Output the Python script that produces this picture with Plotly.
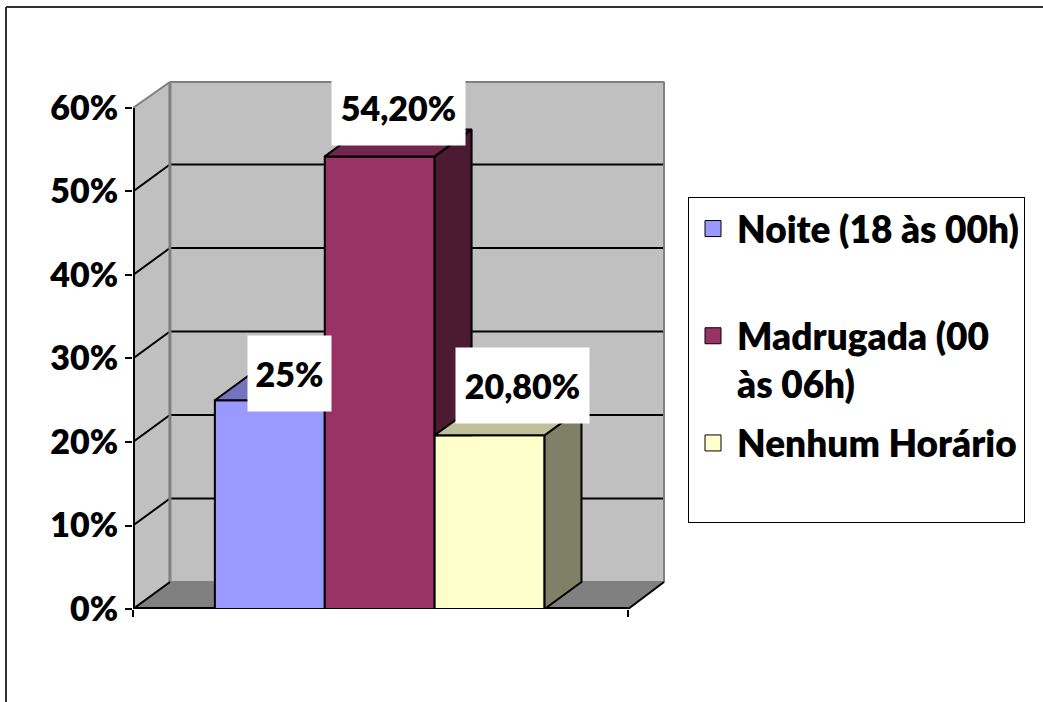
import plotly.graph_objects as go

# ---------------- data ----------------
categories = ["Noite (18 às 00h)", "Madrugada (00 às 06h)", "Nenhum Horário"]
legend_labels = ["Noite (18 às 00h)<br>\u00a0", "Madrugada (00<br>às 06h)", "Nenhum Horário<br>\u00a0"]
values = [0.25, 0.542, 0.208]
value_labels = ["25%", "54,20%", "20,80%"]
tick_vals = [0, 0.1, 0.2, 0.3, 0.4, 0.5, 0.6]
tick_text = ["0%", "10%", "20%", "30%", "40%", "50%", "60%"]

# ---------------- style ----------------
front_colors = ["#9999FF", "#993366", "#FFFFCC"]
top_colors = ["#7373BF", "#73264D", "#C0C09A"]
side_colors = ["#4D4D80", "#4D1A33", "#808066"]
WALL = "#C0C0C0"
FLOOR = "#808080"
EDGE_GRAY = "#808080"
FONT = "Lato, 'Open Sans', sans-serif"
FS = 34
FS_LEG = 37
FW = 800

W, H = 1043, 702
ML, MR, MT, MB = 133, 378, 81, 93
PW, PH = W - ML - MR, H - MT - MB

XL, XR = -1.245, 3.26        # front-plane extent of the category axis
DX, DY = 0.336, 0.0323       # 3-D depth offset in axis units
YMAX = 0.6
x_range = [XL, XR + DX]
y_range = [0, YMAX + DY]
UX = (x_range[1] - x_range[0]) / PW   # axis units per pixel
UY = (y_range[1] - y_range[0]) / PH

# label box offsets (relative to each bar) and sizes
lab_dx = [0.178, 0.169, 0.296]
lab_dy = [0.032, 0.0586, 0.0597]
lab_w = [83, 133, 133]
lab_h = [75, 75, 75]


def poly_path(pts):
    return "M " + " L ".join(f"{x},{y}" for x, y in pts) + " Z"


def clip_halfplane(pts, inside, intersect):
    out = []
    n = len(pts)
    for k in range(n):
        cur, prev = pts[k], pts[k - 1]
        if inside(cur):
            if not inside(prev):
                out.append(intersect(prev, cur))
            out.append(cur)
        elif inside(prev):
            out.append(intersect(prev, cur))
    return out


def clip_y_above(pts, y0):
    def inter(a, b):
        t = (y0 - a[1]) / (b[1] - a[1])
        return (a[0] + t * (b[0] - a[0]), y0)
    return clip_halfplane(pts, lambda p: p[1] >= y0, inter)


def clip_x_left(pts, x0):
    def inter(a, b):
        t = (x0 - a[0]) / (b[0] - a[0])
        return (x0, a[1] + t * (b[1] - a[1]))
    return clip_halfplane(pts, lambda p: p[0] <= x0, inter)


fig = go.Figure()

# ---------------- walls / floor / grid (shapes below traces) ----------------
shapes = []
shapes.append(dict(type="path", xref="x", yref="y", layer="below",
                   path=poly_path([(XL, 0), (XL, YMAX), (XL + DX, YMAX + DY), (XL + DX, DY)]),
                   fillcolor=WALL, line=dict(width=0)))
shapes.append(dict(type="path", xref="x", yref="y", layer="below",
                   path=poly_path([(XL + DX, DY), (XL + DX, YMAX + DY), (XR + DX, YMAX + DY), (XR + DX, DY)]),
                   fillcolor=WALL, line=dict(width=0)))
shapes.append(dict(type="path", xref="x", yref="y", layer="below",
                   path=poly_path([(XL, 0), (XR, 0), (XR + DX, DY), (XL + DX, DY)]),
                   fillcolor=FLOOR, line=dict(width=0)))


def seg(x0, y0, x1, y1, color, width):
    shapes.append(dict(type="line", xref="x", yref="y", layer="below",
                       x0=x0, y0=y0, x1=x1, y1=y1, line=dict(color=color, width=width)))


for v in tick_vals[1:-1]:
    seg(XL + DX, v + DY, XR + DX, v + DY, "black", 2)
    seg(XL, v, XL + DX, v + DY, "black", 2)
# gray wall edges
seg(XL, YMAX, XL + DX, YMAX + DY - UY, EDGE_GRAY, 2)
seg(XL + DX, YMAX + DY - UY, XR + DX - UX, YMAX + DY - UY, EDGE_GRAY, 2)
seg(XL + DX, DY, XL + DX, YMAX + DY - UY, EDGE_GRAY, 3)
seg(XR + DX - UX, DY, XR + DX - UX, YMAX + DY - UY, EDGE_GRAY, 2)
seg(XL + DX, DY, XR + DX - UX, DY, EDGE_GRAY, 2)
# floor diagonals (black)
seg(XL, 0, XL + DX, DY, "black", 2)
seg(XR, 0, XR + DX - UX, DY, "black", 2)
# front axis lines
seg(XL + UX, 0, XL + UX, YMAX, "black", 2)
seg(XL, UY, XR, UY, "black", 2)

# ---------------- bars: front faces ----------------
for i, (cat, v) in enumerate(zip(categories, values)):
    fig.add_trace(go.Bar(
        x=[i], y=[v], width=1, name=cat, showlegend=False,
        marker=dict(color=front_colors[i], line=dict(color="black", width=2)),
        hovertemplate=f"{cat}: {value_labels[i]}<extra></extra>"))

# ---------------- bars: side and top faces ----------------
for i, v in enumerate(values):
    xr_ = i + 0.5
    side = [(xr_, 0), (xr_ + DX, DY), (xr_ + DX, v + DY), (xr_, v)]
    top = [(i - 0.5, v), (xr_, v), (xr_ + DX, v + DY), (i - 0.5 + DX, v + DY)]
    if i + 1 < len(values):
        vn = values[i + 1]
        side = clip_y_above(side, vn) if vn > 0 else side
        if vn >= v + DY:
            top = clip_x_left(top, xr_)
    for pts, col in ((side, side_colors[i]), (top, top_colors[i])):
        if len(pts) < 3:
            continue
        xs = [p[0] for p in pts] + [pts[0][0]]
        ys = [p[1] for p in pts] + [pts[0][1]]
        fig.add_trace(go.Scatter(
            x=xs, y=ys, mode="lines", fill="toself", fillcolor=col,
            line=dict(color="black", width=2), showlegend=False, hoverinfo="skip"))

# ---------------- legend proxies ----------------
for i, lab in enumerate(legend_labels):
    fig.add_trace(go.Scatter(
        x=[None], y=[None], mode="markers", name=lab, legendgroup=f"g{i}",
        marker=dict(symbol="square", size=16, color=front_colors[i],
                    line=dict(color="black", width=1))))

# ---------------- value labels ----------------
annotations = []
for i, v in enumerate(values):
    annotations.append(dict(
        x=i + lab_dx[i], y=v + lab_dy[i], xref="x", yref="y",
        text=value_labels[i], showarrow=False, bgcolor="white",
        width=lab_w[i], height=lab_h[i], borderpad=0,
        font=dict(family=FONT, size=FS, color="black", weight=FW)))


# ---------------- outer border (paper) ----------------
def px_paper_x(px):
    return (px - ML) / PW


def px_paper_y(py):
    return (H - MB - py) / PH


shapes.append(dict(type="line", xref="paper", yref="paper",
                   x0=px_paper_x(6), y0=px_paper_y(7), x1=px_paper_x(W), y1=px_paper_y(7),
                   line=dict(color="#333333", width=2)))
shapes.append(dict(type="line", xref="paper", yref="paper",
                   x0=px_paper_x(6), y0=px_paper_y(7), x1=px_paper_x(6), y1=px_paper_y(H),
                   line=dict(color="#333333", width=2)))

fig.update_layout(
    width=W, height=H,
    margin=dict(l=ML, r=MR, t=MT, b=MB, pad=0),
    paper_bgcolor="white", plot_bgcolor="rgba(0,0,0,0)",
    barmode="overlay",
    shapes=shapes, annotations=annotations,
    showlegend=True,
    legend=dict(x=px_paper_x(688), y=px_paper_y(197), xanchor="left", yanchor="top",
                bgcolor="white", bordercolor="black", borderwidth=1,
                font=dict(family=FONT, size=FS_LEG, color="black", weight=FW),
                valign="top", tracegroupgap=8, traceorder="grouped", itemwidth=38),
    xaxis=dict(range=x_range, showgrid=False, zeroline=False, showline=False,
               tickvals=[XL, XR], ticks="outside", ticklen=7, tickwidth=2, tickcolor="black",
               showticklabels=False, fixedrange=True),
    yaxis=dict(range=y_range, showgrid=False, zeroline=False, showline=False,
               tickvals=tick_vals, ticktext=tick_text, ticks="outside", ticklen=7,
               tickwidth=2, tickcolor="black",
               tickfont=dict(family=FONT, size=FS, color="black", weight=FW),
               fixedrange=True),
    hovermode="closest",
)

fig.write_html("out.html", config={"displayModeBar": False},
               post_script=("document.body.style.margin='0';"
                            "document.body.style.overflow='hidden';"
                            "document.documentElement.style.overflow='hidden';"))
